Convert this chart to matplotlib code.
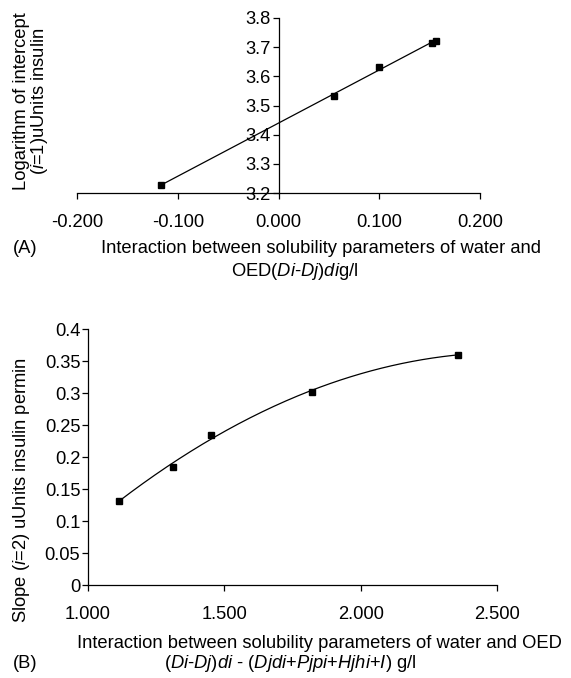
import numpy as np
import matplotlib
matplotlib.use('Agg')
import matplotlib.pyplot as plt
import matplotlib.ticker as mticker

plt.rcParams['font.family'] = ['Liberation Sans', 'DejaVu Sans']
plt.rcParams['mathtext.fontset'] = 'custom'
plt.rcParams['mathtext.rm'] = 'Liberation Sans'
plt.rcParams['mathtext.it'] = 'Liberation Sans:italic'

# panel A: log intercept vs interaction term
a_x = [-0.117, 0.055, 0.100, 0.152, 0.156]
a_y = [3.227, 3.533, 3.632, 3.715, 3.722]

# panel B: slope vs interaction term
b_x = [1.114, 1.312, 1.451, 1.822, 2.357]
b_y = [0.132, 0.185, 0.235, 0.302, 0.360]

a_xticks = [-0.2, -0.1, 0.0, 0.1, 0.2]
a_yticks = [3.2, 3.3, 3.4, 3.5, 3.6, 3.7, 3.8]
b_xticks = [1.0, 1.5, 2.0, 2.5]
b_yticks = [0, 0.05, 0.1, 0.15, 0.2, 0.25, 0.3, 0.35, 0.4]

W, H = 571, 678
fs = 13.2


def px(x, y):
    return x / W, 1 - y / H


def style_axes(ax):
    for s in ['top', 'right']:
        ax.spines[s].set_visible(False)
    for s in ['left', 'bottom']:
        ax.spines[s].set_linewidth(0.9)
    ax.tick_params(axis='x', direction='out', length=4, width=0.9, pad=11, labelsize=fs)
    ax.tick_params(axis='y', direction='out', length=4, width=0.9, pad=1.5, labelsize=fs)


fig = plt.figure(figsize=(W / 100, H / 100), dpi=100)

# ---- (A)
ax1 = fig.add_axes([77 / W, 1 - 193 / H, 403 / W, 175 / H])
style_axes(ax1)
ax1.spines['left'].set_position(('data', 0))
ax1.set_xlim(-0.2, 0.2)
ax1.set_ylim(3.2, 3.8)
ax1.set_xticks(a_xticks)
ax1.set_yticks(a_yticks)
ax1.xaxis.set_major_formatter(mticker.FormatStrFormatter('%.3f'))
ax1.yaxis.set_major_formatter(mticker.FormatStrFormatter('%.1f'))

k, c = np.polyfit(a_x, a_y, 1)
xx = np.array([min(a_x), max(a_x)])
ax1.plot(xx, k * xx + c, color='black', lw=0.9, zorder=2)
ax1.plot(a_x, a_y, 's', color='black', ms=4, zorder=3, clip_on=False)

fig.text(*px(22, 101), 'Logarithm of intercept', rotation=90, ha='center', va='center', fontsize=fs)
fig.text(*px(40, 101), '($\\mathit{i}$=1)uUnits insulin', rotation=90, ha='center', va='center', fontsize=fs)
fig.text(*px(321, 248), 'Interaction between solubility parameters of water and',
         ha='center', va='center', fontsize=fs)
fig.text(*px(295, 272), 'OED($\\mathit{Di}$-$\\mathit{Dj}$)$\\mathit{di}$g/l',
         ha='center', va='center', fontsize=fs)
fig.text(*px(13, 248), '(A)', ha='left', va='center', fontsize=fs)

# ---- (B)
ax2 = fig.add_axes([88 / W, 1 - 585 / H, 409 / W, 256 / H])
style_axes(ax2)
ax2.set_xlim(1.0, 2.5)
ax2.set_ylim(0, 0.4)
ax2.set_xticks(b_xticks)
ax2.set_yticks(b_yticks)
ax2.xaxis.set_major_formatter(mticker.FormatStrFormatter('%.3f'))
ax2.yaxis.set_major_formatter(mticker.FuncFormatter(lambda v, p: f'{v:g}'))

p2 = np.polyfit(b_x, b_y, 2)
xs = np.linspace(min(b_x), max(b_x), 200)
ax2.plot(xs, np.polyval(p2, xs), color='black', lw=0.9, zorder=2)
ax2.plot(b_x, b_y, 's', color='black', ms=4, zorder=3)

fig.text(*px(22, 490), 'Slope ($\\mathit{i}$=2) uUnits insulin permin', rotation=90,
         ha='center', va='center', fontsize=fs)
fig.text(*px(319, 644), 'Interaction between solubility parameters of water and OED',
         ha='center', va='center', fontsize=fs)
fig.text(*px(290, 664),
         '($\\mathit{Di}$-$\\mathit{Dj}$)$\\mathit{di}$ - ($\\mathit{Djdi}$+$\\mathit{Pjpi}$+$\\mathit{Hjhi}$+$\\mathit{I}$) g/l',
         ha='center', va='center', fontsize=fs)
fig.text(*px(13, 664), '(B)', ha='left', va='center', fontsize=fs)

fig.savefig('out.png', dpi=100)
